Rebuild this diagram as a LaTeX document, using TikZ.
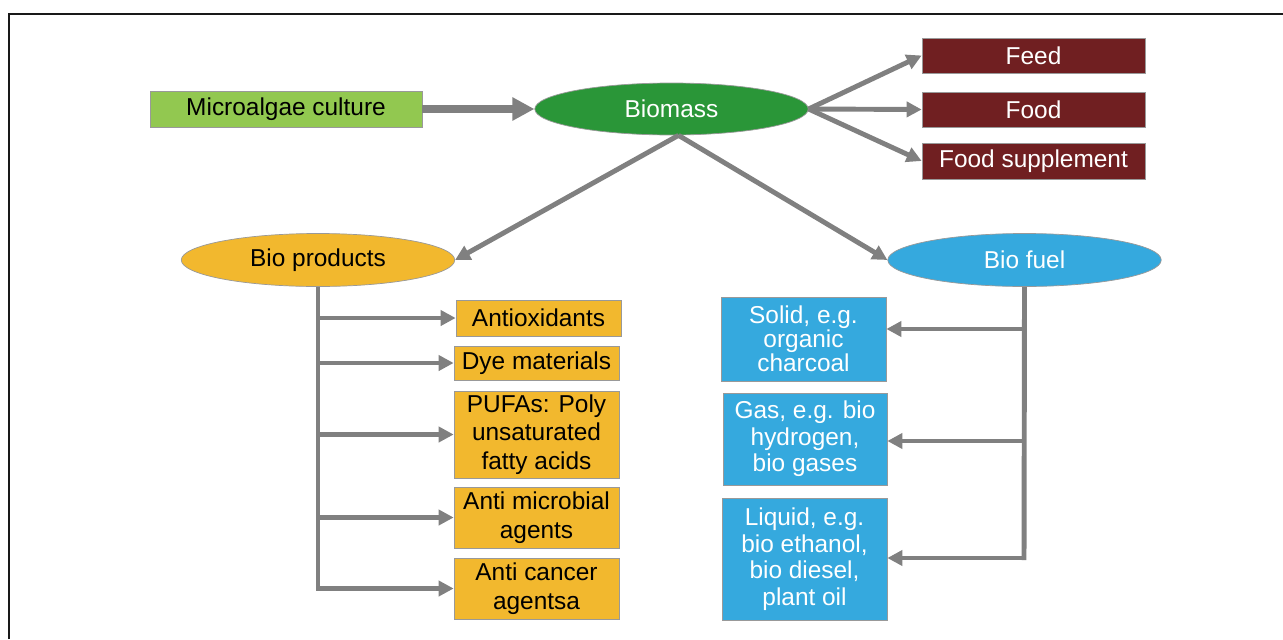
\documentclass[tikz,border=0pt]{standalone}
\usepackage{fontspec}
\setmainfont{Liberation Sans}
\usetikzlibrary{arrows.meta,shapes.geometric}
\definecolor{algaegreen}{RGB}{146,200,80}
\definecolor{massgreen}{RGB}{42,150,56}
\definecolor{maroon}{RGB}{112,31,33}
\definecolor{prodyellow}{RGB}{242,184,46}
\definecolor{fuelblue}{RGB}{53,169,222}
\definecolor{linkgray}{RGB}{128,128,128}
\begin{document}
\begin{tikzpicture}[x=0.02cm,y=-0.02cm,font=\fontsize{13.9}{16.2}\selectfont,
	box/.style={rectangle,draw=linkgray!80,inner sep=0pt,align=center,minimum width=3.3cm},
	fuel box/.style={box,fill=fuelblue,text=white,font=\fontsize{13.9}{15.1}\selectfont},
	blob/.style={ellipse,draw=linkgray!80,inner sep=0pt,minimum width=5.47cm,minimum height=1.06cm},
	link/.style={draw=linkgray,line width=2.8pt,-{Triangle[length=0.3cm,width=0.3cm]}},
	biglink/.style={draw=linkgray,line width=4pt,-{Triangle[length=0.44cm,width=0.44cm]}},
	trunk/.style={draw=linkgray,line width=2.8pt}]
		\useasboundingbox (0,0) rectangle (1283,639);
		\draw[line width=1.2pt,black!90] (9,639) -- (9,14) -- (1283,14);
		% top row
		\node[box,fill=algaegreen,minimum width=5.44cm,minimum height=0.72cm] (micro) at (286,109) {Microalgae culture};
		\node[blob,fill=massgreen,text=white,minimum height=1.04cm] (biomass) at (671.5,109) {Biomass};
		\node[box,fill=maroon,text=white,minimum width=4.46cm,minimum height=0.7cm] (feed) at (1033.5,55.5) {Feed};
		\node[box,fill=maroon,text=white,minimum width=4.46cm,minimum height=0.7cm] (food) at (1033.5,109.5) {Food};
		\node[box,fill=maroon,text=white,minimum width=4.46cm,minimum height=0.72cm] (supp) at (1033.5,161) {Food supplement};
		% second row
		\node[blob,fill=prodyellow] (bioprod) at (318,260) {Bio products};
		\node[blob,fill=fuelblue,text=white] (biofuel) at (1024.5,260) {Bio fuel};
		% bio products
		\node[box,fill=prodyellow,minimum height=0.72cm] (antiox) at (538.5,318) {Antioxidants};
		\node[box,fill=prodyellow,minimum height=0.68cm] (dye) at (536.5,363) {Dye materials};
		\node[box,fill=prodyellow,minimum height=1.74cm] (pufa) at (536.5,434.5) {PUFAs: Poly\\unsaturated\\fatty acids};
		\node[box,fill=prodyellow,minimum height=1.22cm] (microb) at (536.5,517.5) {Anti microbial\\agents};
		\node[box,fill=prodyellow,minimum height=1.22cm] (cancer) at (536.5,588.5) {Anti cancer\\agentsa};
		% bio fuel
		\node[fuel box,font=\fontsize{13.9}{13.6}\selectfont,minimum height=1.68cm] (solid) at (803.5,339) {Solid, e.g.\\organic\\charcoal};
		\node[fuel box,minimum width=3.28cm,minimum height=1.84cm] (gas) at (805,439) {Gas, e.g. bio\\hydrogen,\\bio gases};
		\node[fuel box,minimum height=2.44cm] (liquid) at (804.5,559) {Liquid, e.g.\\bio ethanol,\\bio diesel,\\plant oil};
		\coordinate (ltrunk) at (318,591);
		\coordinate (rtrunk) at (1024,560);
		\coordinate (rsolid) at (1024,329);
		\coordinate (rgas) at (1024,441);
		\coordinate (rliquid) at (1024,558);
		% connectors
		\draw[biglink] (micro) -- (biomass);
		\path (biomass.east) edge[link] (feed.west)
		edge[link] (food.west)
		edge[link] (supp.west);
		\path ([xshift=0.14cm]biomass.south) edge[link] (bioprod.east)
		edge[link] (biofuel.west);
		\draw[trunk] (bioprod.south) -- (ltrunk);
		\foreach \b in {antiox,dye,pufa,microb,cancer}
			\draw[link] (\b.west -| bioprod.south) -- (\b.west);
		\draw[trunk] (biofuel.south) -- (rtrunk);
		\draw[link] (rsolid) -- (rsolid -| solid.east);
		\draw[link] (rgas) -- (rgas -| gas.east);
		\draw[link] (rliquid) -- (rliquid -| liquid.east);
\end{tikzpicture}
\end{document}
